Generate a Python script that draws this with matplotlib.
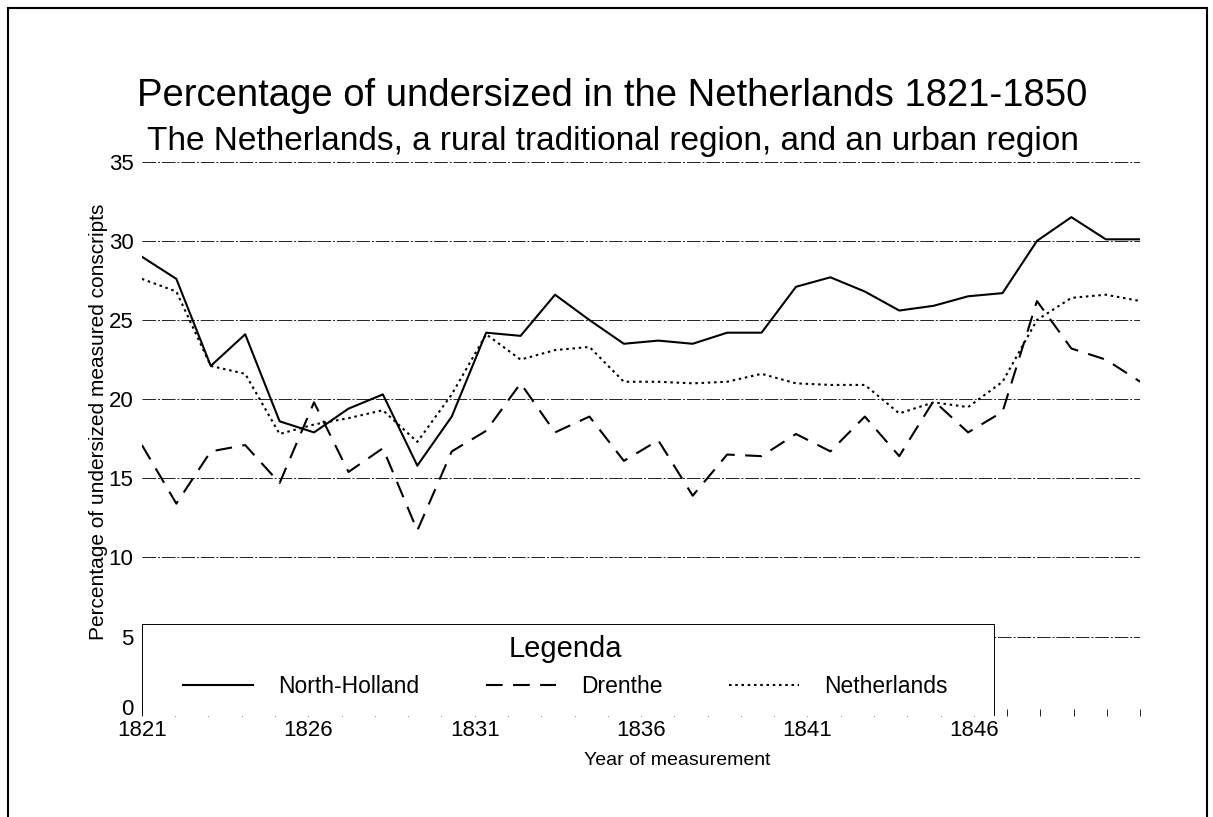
import numpy as np
import matplotlib.pyplot as plt
from matplotlib.patches import Rectangle
from matplotlib.transforms import ScaledTranslation

plt.rcParams['font.family'] = ['Liberation Sans', 'DejaVu Sans']

# Data
years = list(range(1821, 1851))
north_holland = [29.0, 27.6, 22.1, 24.1, 18.6, 17.9, 19.4, 20.3, 15.8, 18.9,
                 24.2, 24.0, 26.6, 25.0, 23.5, 23.7, 23.5, 24.2, 24.2, 27.1,
                 27.7, 26.8, 25.6, 25.9, 26.5, 26.7, 30.0, 31.5, 30.1, 30.1]
drenthe = [17.1, 13.4, 16.7, 17.1, 14.7, 19.8, 15.4, 16.9, 11.7, 16.7,
           18.0, 21.0, 17.9, 18.9, 16.1, 17.4, 13.9, 16.5, 16.4, 17.8,
           16.7, 18.9, 16.4, 19.9, 17.9, 19.2, 26.2, 23.2, 22.5, 21.1]
netherlands = [27.6, 26.8, 22.1, 21.6, 17.8, 18.4, 18.8, 19.3, 17.3, 20.3,
               24.1, 22.5, 23.1, 23.3, 21.1, 21.1, 21.0, 21.1, 21.6, 21.0,
               20.9, 20.9, 19.1, 19.8, 19.5, 21.1, 25.0, 26.4, 26.6, 26.2]

tick_years = [1821, 1826, 1831, 1836, 1841, 1846]
y_ticks = [0, 5, 10, 15, 20, 25, 30, 35]

fig = plt.figure(figsize=(12.13, 8.17), dpi=100)
ax = fig.add_axes([0.117, 0.124, 0.823, 0.678])

# outer frame of the page
fig.patches.append(Rectangle((0.007, -0.01), 0.988, 1.0, transform=fig.transFigure,
                             fill=False, edgecolor='black', linewidth=1.5))

ax.plot(years, north_holland, color='black', linewidth=1.5, label='North-Holland')
ax.plot(years, drenthe, color='black', linewidth=1.5, linestyle=(0, (8, 5)), label='Drenthe')
ax.plot(years, netherlands, color='black', linewidth=1.5, linestyle=(0, (1.2, 1.8)), label='Netherlands')

ax.set_xlim(1821, 1850)
ax.set_ylim(0, 35)

# the original axis is divided in 31 year slots, so the labels sit a bit left of the data years
slot = 29 / 30
ax.set_xticks([1821 + k * slot for k in range(31)])
ax.set_xticklabels([str(1821 + k) if (1821 + k) in tick_years else '' for k in range(31)],
                   fontsize=16)
ax.tick_params(axis='x', direction='in', length=5, width=0.6, pad=3)
ax.set_yticks(y_ticks)
ax.set_yticklabels([str(v) for v in y_ticks], fontsize=16)
ax.tick_params(axis='y', length=0, pad=6)
# the "0" sits slightly above its line in the original
zero = ax.get_yticklabels()[0]
zero.set_transform(zero.get_transform() + ScaledTranslation(0, 6 / 72, fig.dpi_scale_trans))

for v in y_ticks:
    ax.axhline(v, color='#222222', linewidth=0.7, linestyle=(0, (14, 2, 2, 2)), zorder=0)
for s in ax.spines.values():
    s.set_visible(False)

ax.set_xlabel('Year of measurement', fontsize=14)
ax.xaxis.set_label_coords(0.536, -0.066)
ax.set_ylabel('Percentage of undersized measured conscripts', fontsize=15)
ax.yaxis.set_label_coords(-0.034, 0.53)

fig.text(0.505, 0.882, 'Percentage of undersized in the Netherlands 1821-1850',
         ha='center', va='center', fontsize=27.5)
fig.text(0.505, 0.827, 'The Netherlands, a rural traditional region, and an urban region',
         ha='center', va='center', fontsize=24)

# legend box sits inside the plot area, over the lower grid lines
ax.add_patch(Rectangle((0, 0), 0.854, 0.166, transform=ax.transAxes, facecolor='white',
                       edgecolor='black', linewidth=0.7, zorder=4))
leg = ax.legend(loc='center', bbox_to_anchor=(0.424, 0.088), ncol=3, title='Legenda',
                fontsize=16.5, title_fontsize=21, frameon=False, borderpad=0,
                handlelength=3.05, handletextpad=1.1, columnspacing=2.9, labelspacing=0.52)
leg.set_zorder(5)
for line in leg.get_lines():
    line.set_linewidth(1.5)

plt.savefig('out.png', dpi=100)
